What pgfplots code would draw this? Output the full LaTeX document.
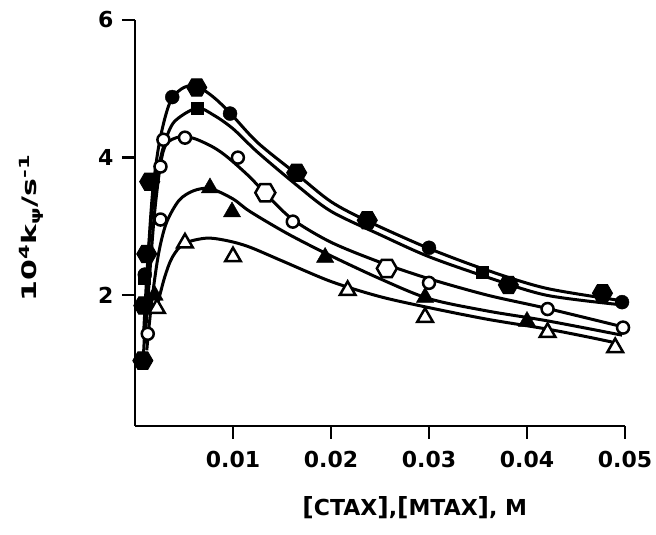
\documentclass[border=0pt]{standalone}
\usepackage{fontspec}
\setmainfont{DejaVu Sans}
\usepackage{graphicx}
\usepackage{pgfplots}
\pgfplotsset{compat=1.18}
\pgfdeclareplotmark{hex}{%
  \pgfpathmoveto{\pgfqpointpolar{0}{\pgfplotmarksize}}%
  \pgfpathlineto{\pgfqpointpolar{60}{\pgfplotmarksize}}%
  \pgfpathlineto{\pgfqpointpolar{120}{\pgfplotmarksize}}%
  \pgfpathlineto{\pgfqpointpolar{180}{\pgfplotmarksize}}%
  \pgfpathlineto{\pgfqpointpolar{240}{\pgfplotmarksize}}%
  \pgfpathlineto{\pgfqpointpolar{300}{\pgfplotmarksize}}%
  \pgfpathclose
  \pgfusepathqfillstroke}
\begin{document}
\begin{tikzpicture}
\begin{axis}[
  name=ax,
  scale only axis, width=490pt, height=406pt,
  xmin=0, xmax=0.05, ymin=0.1, ymax=6,
  axis lines=left, axis line style={line width=2.6pt, -},
  scaled x ticks=false,
  xtick={0.01,0.02,0.03,0.04,0.05},
  xticklabels={0.01,0.02,0.03,0.04,0.05},
  ytick={2,4,6}, yticklabels={2,4,6},
  tick align=outside, major tick length=13pt,
  tick style={line width=2.4pt, black},
  ticklabel style={font=\bfseries\fontsize{22}{26}\selectfont},
  xticklabel style={anchor=north, yshift=-9pt},
  yticklabel style={anchor=east, xshift=-5pt},
  xlabel={\bfseries\fontsize{22}{26}\selectfont{\fontsize{25}{28}\selectfont[}CTAX{\fontsize{25}{28}\selectfont]},{\fontsize{25}{28}\selectfont[}MTAX{\fontsize{25}{28}\selectfont]}, M},
  xlabel style={at={(axis description cs:0.571,-0.2)}, anchor=center},
  ylabel={\scalebox{1.5}[1]{\bfseries\fontsize{20}{24}\selectfont 10\textsuperscript{4}k\textsubscript{ψ}/s\textsuperscript{-1}}},
  ylabel style={at={(axis description cs:-0.212,0.488)}, anchor=center},
  clip=false,
]
% curves
\addplot[black, line width=3pt, smooth] coordinates {
(0.0008,0.95) (0.0011,1.8) (0.0014,2.7) (0.0018,3.5) (0.0024,4.15) (0.0031,4.6) (0.0038,4.87) (0.005,5.02) (0.0063,5.04) (0.008,4.88) (0.0097,4.65) (0.0125,4.22) (0.0165,3.76) (0.02,3.36) (0.0237,3.08) (0.03,2.68) (0.036,2.36) (0.042,2.1) (0.0497,1.92)};
\addplot[black, line width=3pt, smooth] coordinates {
(0.0009,1.5) (0.0013,2.5) (0.0018,3.3) (0.0024,3.85) (0.003,4.2) (0.004,4.52) (0.0063,4.72) (0.008,4.62) (0.01,4.42) (0.0125,4.08) (0.0165,3.6) (0.02,3.22) (0.025,2.88) (0.03,2.56) (0.036,2.26) (0.042,2.0) (0.0497,1.86)};
\addplot[black, line width=3pt, smooth] coordinates {
(0.001,1.3) (0.0015,2.3) (0.002,3.2) (0.0026,3.9) (0.0032,4.2) (0.0045,4.3) (0.006,4.28) (0.008,4.15) (0.0095,4.0) (0.0117,3.72) (0.0135,3.45) (0.0161,3.1) (0.02,2.77) (0.025,2.48) (0.03,2.24) (0.036,2.0) (0.042,1.81) (0.0498,1.54)};
\addplot[black, line width=3pt, smooth] coordinates {
(0.0012,1.2) (0.0017,1.9) (0.0024,2.6) (0.0032,3.05) (0.0045,3.38) (0.006,3.52) (0.0077,3.55) (0.01,3.4) (0.0117,3.22) (0.0155,2.9) (0.0196,2.6) (0.025,2.24) (0.03,1.95) (0.036,1.77) (0.042,1.63) (0.0497,1.42)};
\addplot[black, line width=3pt, smooth] coordinates {
(0.0022,1.81) (0.003,2.25) (0.0038,2.55) (0.005,2.75) (0.0073,2.83) (0.0095,2.79) (0.0117,2.7) (0.015,2.5) (0.02,2.2) (0.025,1.98) (0.03,1.82) (0.036,1.65) (0.042,1.51) (0.046,1.4) (0.049,1.31)};
% markers
\addplot[only marks, mark=hex, mark size=10pt, mark options={fill=black, draw=black, line width=1pt}] coordinates {
(0.0063,5.02) (0.0165,3.78) (0.0237,3.09) (0.0381,2.15) (0.0477,2.03) (0.0015,3.65) (0.0012,2.6) (0.0009,1.85) (0.0008,1.05)};
\addplot[only marks, mark=*, mark size=7pt, mark options={fill=black, draw=black}] coordinates {
(0.0038,4.88) (0.0097,4.64) (0.030,2.69) (0.0497,1.90) (0.0010,2.3)};
\addplot[only marks, mark=square*, mark size=6pt, mark options={fill=black, draw=black}] coordinates {
(0.0063,4.72) (0.0354,2.34) (0.0009,2.25)};
\addplot[only marks, mark=triangle*, mark size=10pt, mark options={fill=black, draw=black}] coordinates {
(0.00765,3.56) (0.0099,3.21) (0.0194,2.55) (0.0296,1.97) (0.040,1.62) (0.002,2.0)};
\addplot[only marks, mark=*, mark size=6pt, mark options={fill=white, draw=black, line width=2.5pt}] coordinates {
(0.0029,4.26) (0.0051,4.29) (0.0105,4.0) (0.0161,3.07) (0.030,2.18) (0.0421,1.80) (0.0498,1.53) (0.0026,3.1) (0.0013,1.44) (0.0026,3.87)};
\addplot[only marks, mark=hex, mark size=10pt, mark options={fill=white, draw=black, line width=2.5pt}] coordinates {
(0.0133,3.49) (0.0257,2.39)};
\addplot[only marks, mark=triangle*, mark size=9pt, mark options={fill=white, draw=black, line width=2.5pt}] coordinates {
(0.00224,1.81) (0.0051,2.76) (0.0100,2.56) (0.0217,2.07) (0.0296,1.68) (0.0421,1.46) (0.049,1.24)};
\end{axis}
\pgfresetboundingbox
\path[use as bounding box] ([shift={(-135pt,-109pt)}]ax.south west) rectangle ([shift={(521pt,426pt)}]ax.south west);
\end{tikzpicture}
\end{document}
